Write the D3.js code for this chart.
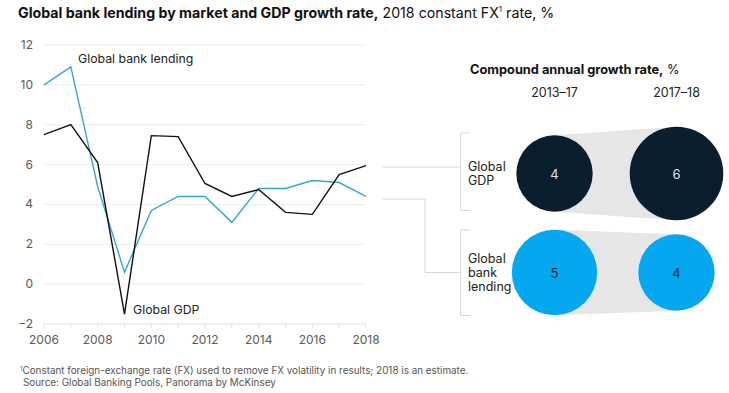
<!DOCTYPE html>
<html>
<head>
<meta charset="utf-8">
<script src="https://cdn.jsdelivr.net/npm/d3@7"></script>
<style>
  body { margin: 0; background: #fff; }
  text { font-family: Inter, "Liberation Sans", sans-serif; }
</style>
</head>
<body>
<script>
const width = 729;
const height = 393;

// line chart data
const years = [2006, 2007, 2008, 2009, 2010, 2011, 2012, 2013, 2014, 2015, 2016, 2017, 2018];
const bankLending = [10.0, 10.9, 4.9, 0.6, 3.7, 4.4, 4.4, 3.1, 4.8, 4.8, 5.2, 5.1, 4.4];
const globalGdp = [7.5, 8.0, 6.1, -1.5, 7.45, 7.4, 5.05, 4.4, 4.75, 3.6, 3.5, 5.5, 5.95];
const yTicks = [-2, 0, 2, 4, 6, 8, 10, 12];
const xTicks = [2006, 2008, 2010, 2012, 2014, 2016, 2018];

// CAGR bubbles
const periods = ["2013\u201317", "2017\u201318"];
const cagrGdp = [4, 6];
const cagrLending = [5, 4];

const navy = "#0b1e2d";
const bubbleBlue = "#05a8ef";
const lineBlue = "#35a7cf";

let svg = d3.select("body")
    .append("svg")
    .attr("width", width)
    .attr("height", height);

// title
let title = svg.append("text")
    .attr("x", 18)
    .attr("y", 18)
    .attr("font-size", 14.2)
    .attr("fill", "#111");
title.append("tspan").attr("font-weight", "bold").text("Global bank lending by market and GDP growth rate,");
title.append("tspan").text(" 2018 constant FX");
title.append("tspan").attr("font-size", 8).attr("dy", -6).text("1");
title.append("tspan").attr("dy", 6).text(" rate, %");

// ---- line chart ----
let x = d3.scaleLinear().domain([2006, 2018]).range([44, 366]);
let y = d3.scaleLinear().domain([-2, 12]).range([324, 45]);

let chart = svg.append("g");

chart.append("g")
    .selectAll("line")
    .data(yTicks)
    .enter()
    .append("line")
    .attr("x1", x(2006))
    .attr("x2", x(2018))
    .attr("y1", (d)=>y(d))
    .attr("y2", (d)=>y(d))
    .attr("stroke", (d)=>d == -2 ? "#e2e2e2" : "#ececec")
    .attr("stroke-width", 1);

// small year ticks under the baseline
chart.append("g")
    .selectAll("line")
    .data(years)
    .enter()
    .append("line")
    .attr("x1", (d)=>x(d))
    .attr("x2", (d)=>x(d))
    .attr("y1", y(-2))
    .attr("y2", y(-2) + 4)
    .attr("stroke", "#e2e2e2");

chart.append("g")
    .attr("font-size", 12)
    .attr("fill", "#5a5a5a")
    .attr("text-anchor", "end")
    .selectAll("text")
    .data(yTicks)
    .enter()
    .append("text")
    .attr("x", 33)
    .attr("y", (d)=>y(d) + 4)
    .text((d)=>d < 0 ? "\u2212" + Math.abs(d) : d);

chart.append("g")
    .attr("font-size", 12)
    .attr("fill", "#5a5a5a")
    .attr("text-anchor", "middle")
    .selectAll("text")
    .data(xTicks)
    .enter()
    .append("text")
    .attr("x", (d)=>x(d))
    .attr("y", 344)
    .text((d)=>d);

let line = d3.line()
    .x((d, i)=>x(years[i]))
    .y((d)=>y(d));

chart.append("path")
    .attr("d", line(bankLending))
    .attr("fill", "none")
    .attr("stroke", lineBlue)
    .attr("stroke-width", 1.4);

chart.append("path")
    .attr("d", line(globalGdp))
    .attr("fill", "none")
    .attr("stroke", "#111")
    .attr("stroke-width", 1.4);

chart.append("text")
    .attr("x", 78)
    .attr("y", 63)
    .attr("font-size", 12.3)
    .attr("fill", "#222")
    .text("Global bank lending");

chart.append("text")
    .attr("x", 133)
    .attr("y", 314)
    .attr("font-size", 12.3)
    .attr("fill", "#222")
    .text("Global GDP");

// ---- connectors and brackets ----
let conn = svg.append("g")
    .attr("fill", "none")
    .attr("stroke", "#d6d6d6")
    .attr("stroke-width", 1);

conn.append("path").attr("d", "M383,167H460.5");
conn.append("path").attr("d", "M383,199H425V272.5H460.5");
conn.append("path").attr("d", "M470,133H460.5V210.5H470");
conn.append("path").attr("d", "M470,230H460.5V315.5H470");

// ---- bubble panel ----
let px = d3.scalePoint().domain(periods).range([554.5, 676.5]);
let r = d3.scaleSqrt().domain([0, 6]).range([0, 46.8]);

let rightTitle = svg.append("text")
    .attr("x", 470)
    .attr("y", 74)
    .attr("font-size", 12.8)
    .attr("fill", "#111");
rightTitle.append("tspan").attr("font-weight", "bold").text("Compound annual growth rate,");
rightTitle.append("tspan").text(" %");

svg.append("g")
    .attr("font-size", 12.5)
    .attr("fill", "#222")
    .attr("text-anchor", "middle")
    .selectAll("text")
    .data(periods)
    .enter()
    .append("text")
    .attr("x", (d)=>px(d))
    .attr("y", 97)
    .text((d)=>d);

function bubbleRow(values, cy, fill, textFill, label){
    let g = svg.append("g");
    let x0 = px(periods[0]), x1 = px(periods[1]);
    let r0 = r(values[0]), r1 = r(values[1]);
    g.append("path")
        .attr("d", "M" + x0 + "," + (cy - r0) + "L" + x1 + "," + (cy - r1) +
            "L" + x1 + "," + (cy + r1) + "L" + x0 + "," + (cy + r0) + "Z")
        .attr("fill", "#e6e6e6");
    g.selectAll("circle")
        .data(values)
        .enter()
        .append("circle")
        .attr("cx", (d, i)=>px(periods[i]))
        .attr("cy", cy)
        .attr("r", (d)=>r(d))
        .attr("fill", fill);
    g.selectAll("text.val")
        .data(values)
        .enter()
        .append("text")
        .attr("class", "val")
        .attr("x", (d, i)=>px(periods[i]))
        .attr("y", cy + 5)
        .attr("text-anchor", "middle")
        .attr("font-size", 13)
        .attr("fill", textFill)
        .text((d)=>d);
    let lab = g.append("text")
        .attr("x", 468)
        .attr("font-size", 12.5)
        .attr("fill", "#222");
    let lines = label.split("|");
    let top = cy - (lines.length - 1) * 14 / 2 + 4;
    lines.forEach((t, i)=>{
        lab.append("tspan").attr("x", 468).attr("y", top + i * 14).text(t);
    });
}

bubbleRow(cagrGdp, 173.5, navy, "#dde3e8", "Global|GDP");
bubbleRow(cagrLending, 272.5, bubbleBlue, "#0b1e2d", "Global|bank|lending");

// footnote
let foot = svg.append("g")
    .attr("font-size", 9.9)
    .attr("fill", "#555");
let f1 = foot.append("text").attr("x", 20).attr("y", 374);
f1.append("tspan").attr("font-size", 6).attr("dy", -3).text("1");
f1.append("tspan").attr("dy", 3).text("Constant foreign-exchange rate (FX) used to remove FX volatility in results; 2018 is an estimate.");
foot.append("text").attr("x", 23).attr("y", 386)
    .text("Source: Global Banking Pools, Panorama by McKinsey");
</script>
</body>
</html>
